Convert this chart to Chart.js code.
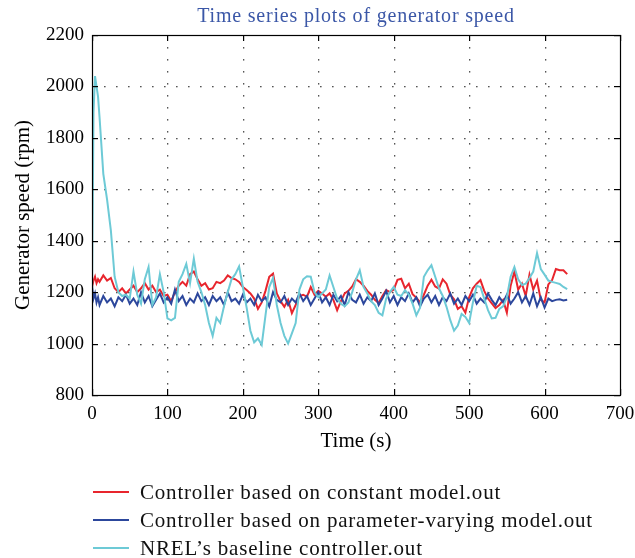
<!DOCTYPE html>
<html>
<head>
<meta charset="utf-8">
<title>Time series plots of generator speed</title>
<script src="https://cdn.jsdelivr.net/npm/chart.js@4.4.1/dist/chart.umd.min.js"></script>
<style>
  html, body { margin: 0; padding: 0; background: #fff; }
  #wrap { position: relative; width: 635px; height: 558px; }
  #title { position: absolute; left: 92px; width: 528px; top: 4px; text-align: center; font-family: "Liberation Serif", serif; font-size: 20px; letter-spacing: 0.8px; color: #3b57a7; white-space: nowrap; }
  #legend { position: absolute; left: 93px; top: 478px; font-family: "Liberation Serif", serif; font-size: 21px; letter-spacing: 0.8px; color: #111; }
  .row { position: relative; height: 28px; line-height: 28px; white-space: nowrap; }
  .row i { position: absolute; left: 0; top: 13px; width: 36px; height: 1.5px; }
  .row span { position: absolute; left: 47px; top: 0; }
</style>
</head>
<body>
<div id="wrap">
  <canvas id="speed" width="635" height="558"></canvas>
  <div id="title">Time series plots of generator speed</div>
  <div id="legend"></div>
</div>
<script>
// sample times (s): dense at the start for the NREL overshoot, then every 5 s
const timeSec = [0, 2, 4, 6, 8];
for (let t = 10; t <= 630; t += 5) timeSec.push(t);

const seriesNames = [
  'Controller based on constant model.out',
  'Controller based on parameter-varying model.out',
  'NREL\u2019s baseline controller.out'
];

// generator speed (rpm)
const constantModel = [
  1220, 1245, 1260, 1235, 1250,
  1240, 1265, 1245, 1255, 1215, 1200, 1215, 1195, 1210, 1225,
  1200, 1215, 1235, 1210, 1225, 1200, 1210, 1185, 1190, 1165,
  1200, 1225, 1240, 1225, 1270, 1280, 1250, 1225, 1235, 1210,
  1215, 1240, 1235, 1245, 1265, 1255, 1250, 1240, 1220, 1208,
  1195, 1175, 1135, 1160, 1205, 1260, 1272, 1195, 1165, 1143,
  1170, 1118, 1150, 1185, 1190, 1182, 1220, 1190, 1205, 1195,
  1182, 1195, 1170, 1130, 1165, 1195, 1205, 1222, 1250, 1240,
  1225, 1205, 1190, 1170, 1158, 1185, 1208, 1200, 1210, 1248,
  1252, 1215, 1233, 1192, 1178, 1160, 1190, 1225, 1248, 1222,
  1214, 1250, 1233, 1190, 1172, 1135, 1145, 1120, 1180, 1215,
  1233, 1247, 1205, 1175, 1156, 1138, 1150, 1170, 1120, 1225,
  1280, 1210, 1233, 1185, 1268, 1210, 1245, 1170, 1160, 1230,
  1247, 1290, 1285, 1285, 1270
];

const varyingModel = [
  1225, 1175, 1195, 1160, 1180,
  1150, 1185, 1160, 1175, 1145, 1180, 1165, 1190, 1155, 1175,
  1150, 1200, 1160, 1185, 1145, 1170, 1195, 1160, 1180, 1155,
  1210, 1165, 1185, 1150, 1175, 1160, 1195, 1165, 1180, 1150,
  1185, 1165, 1180, 1150, 1200, 1165, 1175, 1155, 1190, 1160,
  1175, 1150, 1190, 1165, 1180, 1145, 1200, 1170, 1160, 1185,
  1150, 1175, 1160, 1195, 1165, 1185, 1150, 1175, 1200, 1160,
  1180, 1150, 1190, 1165, 1185, 1150, 1200, 1170, 1160, 1190,
  1155, 1180, 1165, 1195, 1150, 1175, 1205, 1160, 1185, 1150,
  1180, 1165, 1195, 1160, 1180, 1145, 1175, 1190, 1160, 1185,
  1150, 1180, 1165, 1195, 1155, 1175, 1150, 1185, 1165, 1190,
  1155, 1175, 1160, 1195, 1170, 1150, 1180, 1160, 1190, 1155,
  1175, 1200, 1160, 1185, 1150, 1195, 1145, 1180, 1140, 1175,
  1165, 1170, 1172, 1168, 1170
];

const nrelBaseline = [
  1190, 1900, 2040, 2000, 1960,
  1880, 1660, 1560, 1440, 1260, 1200, 1185, 1190, 1175, 1280,
  1190, 1155, 1250, 1298, 1150, 1180, 1270, 1200, 1098, 1090,
  1100, 1240, 1270, 1310, 1235, 1330, 1240, 1200, 1150, 1080,
  1030, 1100, 1080, 1145, 1200, 1250, 1270, 1300, 1220, 1140,
  1050, 1005, 1020, 995, 1110, 1220, 1255, 1150, 1080, 1030,
  1000, 1040, 1080, 1210, 1250, 1262, 1260, 1200, 1180, 1195,
  1210, 1265, 1220, 1175, 1155, 1145, 1160, 1200, 1250, 1285,
  1220, 1195, 1165, 1150, 1120, 1110, 1175, 1200, 1220, 1190,
  1185, 1208, 1190, 1155, 1110, 1140, 1260, 1285, 1305, 1260,
  1215, 1185, 1143, 1091, 1050, 1070, 1115, 1104, 1080, 1160,
  1225, 1220, 1175, 1130, 1098, 1100, 1135, 1145, 1180, 1260,
  1298, 1250, 1228, 1233, 1255, 1280, 1352, 1290, 1268, 1245,
  1240, 1236, 1232, 1220, 1212
];

const seriesValues = [constantModel, varyingModel, nrelBaseline];
const seriesColors = ['#e8252d', '#2c479c', '#6dcad6'];
const drawOrder = [3, 2, 1]; // cyan drawn on top

const xTicks = [0, 100, 200, 300, 400, 500, 600, 700];
const yTicks = [800, 1000, 1200, 1400, 1600, 1800, 2000, 2200];

const serif = '"Liberation Serif", "Times New Roman", serif';

// dotted grid behind the lines, inward ticks and box on top
const gridAndFrame = {
  id: 'gridAndFrame',
  beforeDatasetsDraw(chart) {
    const a = chart.chartArea;
    const c = chart.ctx;
    const sx = chart.scales.x;
    const sy = chart.scales.y;
    c.save();
    c.fillStyle = '#555';
    for (let i = 1; i < xTicks.length - 1; i++) {
      const px = Math.round(sx.getPixelForValue(xTicks[i]));
      for (let y = a.bottom - 12; y > a.top + 4; y -= 12) c.fillRect(px, Math.round(y), 1.3, 1.6);
    }
    for (let i = 1; i < yTicks.length - 1; i++) {
      const py = Math.round(sy.getPixelForValue(yTicks[i]));
      for (let x = a.left + 12; x < a.right - 4; x += 12) c.fillRect(Math.round(x), py, 1.6, 1.3);
    }
    c.restore();
  },
  afterDatasetsDraw(chart) {
    const a = chart.chartArea;
    const c = chart.ctx;
    const sx = chart.scales.x;
    const sy = chart.scales.y;
    c.save();
    c.fillStyle = '#000';
    for (let i = 0; i < xTicks.length; i++) {
      const px = Math.round(sx.getPixelForValue(xTicks[i]));
      c.fillRect(px, Math.round(a.bottom) - 6, 1.2, 6);
      c.fillRect(px, Math.round(a.top), 1.2, 6);
    }
    for (let i = 0; i < yTicks.length; i++) {
      const py = Math.round(sy.getPixelForValue(yTicks[i]));
      c.fillRect(Math.round(a.left), py, 6, 1.2);
      c.fillRect(Math.round(a.right) - 6, py, 6, 1.2);
    }
    c.strokeStyle = '#000';
    c.lineWidth = 1.2;
    c.strokeRect(Math.round(a.left) + 0.5, Math.round(a.top) + 0.5,
      Math.round(a.right - a.left), Math.round(a.bottom - a.top));
    c.restore();
  }
};

const canvasCtx = document.getElementById('speed').getContext('2d');
new Chart(canvasCtx, {
  type: 'line',
  data: {
    datasets: seriesNames.map((name, i) => ({
      label: name,
      data: timeSec.map((t, k) => ({ x: t, y: seriesValues[i][k] })),
      borderColor: seriesColors[i],
      borderWidth: 2,
      pointRadius: 0,
      tension: 0,
      fill: false,
      order: drawOrder[i]
    }))
  },
  options: {
    responsive: false,
    animation: false,
    layout: { padding: { top: 35, right: 15, bottom: 0, left: 0 } },
    plugins: {
      legend: { display: false },
      tooltip: { enabled: false },
      title: { display: false }
    },
    scales: {
      x: {
        type: 'linear',
        min: 0,
        max: 700,
        afterFit: s => { s.height = 163; },
        afterBuildTicks: s => { s.ticks = xTicks.map(v => ({ value: v })); },
        ticks: { color: '#000', padding: 0, font: { family: serif, size: 19 }, callback: v => String(v) },
        grid: { display: false },
        border: { display: false },
        title: {
          display: true,
          text: 'Time (s)',
          color: '#000',
          font: { family: serif, size: 21 },
          padding: { top: 0, bottom: 104 }
        }
      },
      y: {
        min: 800,
        max: 2200,
        afterFit: s => { s.width = 92; },
        afterBuildTicks: s => { s.ticks = yTicks.map(v => ({ value: v })); },
        ticks: { color: '#000', padding: 0, font: { family: serif, size: 19 }, callback: v => String(v) },
        grid: { display: false },
        border: { display: false },
        title: {
          display: true,
          text: 'Generator speed (rpm)',
          color: '#000',
          font: { family: serif, size: 21 },
          padding: { top: 11, bottom: 0 }
        }
      }
    }
  },
  plugins: [gridAndFrame]
});

// legend under the plot, one entry per row
const legendBox = document.getElementById('legend');
seriesNames.forEach((name, i) => {
  const row = document.createElement('div');
  row.className = 'row';
  row.innerHTML = `<i style="background:${seriesColors[i]}"></i><span>${name}</span>`;
  legendBox.appendChild(row);
});
</script>
</body>
</html>
